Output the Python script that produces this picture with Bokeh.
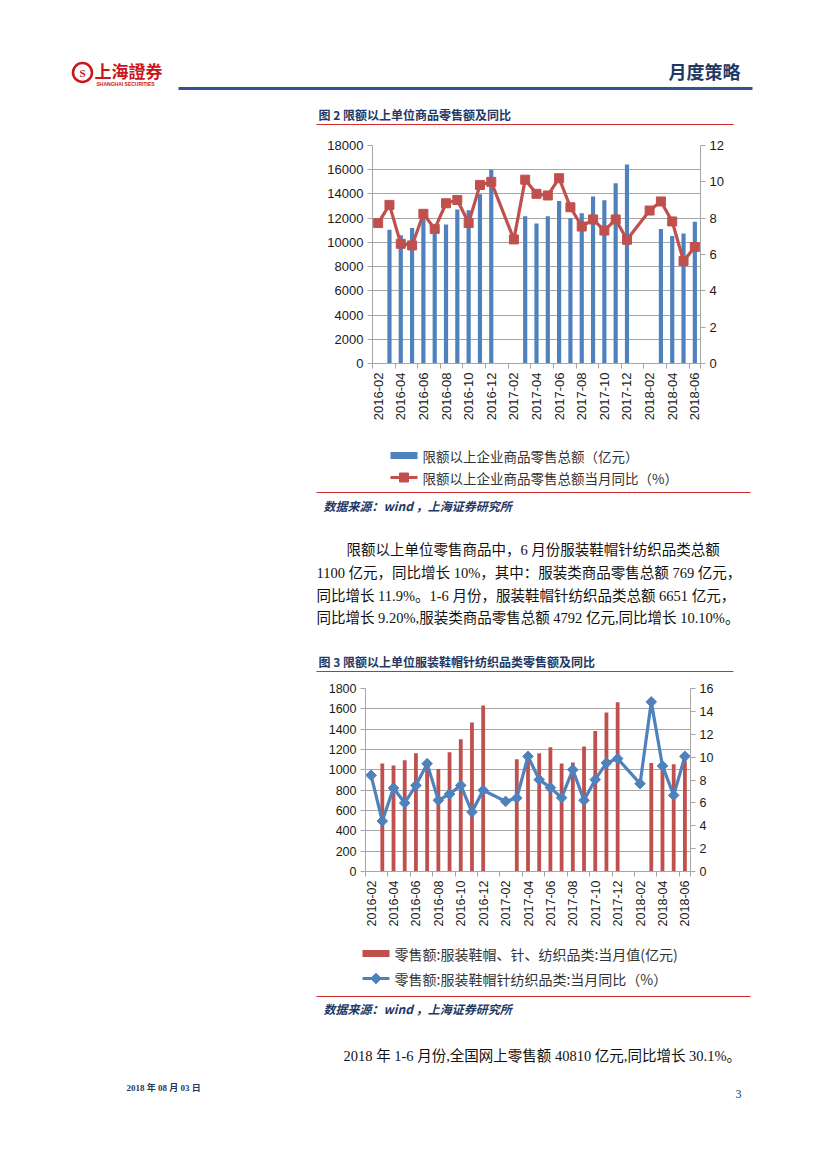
import math
from bokeh.plotting import figure
from bokeh.models import Range1d, LinearAxis, FixedTicker
from bokeh.embed import file_html
from bokeh.resources import INLINE
from bokeh.core.properties import value

# ---------------- data ----------------
months = ["2016-02", "2016-03", "2016-04", "2016-05", "2016-06", "2016-07", "2016-08",
          "2016-09", "2016-10", "2016-11", "2016-12", "2017-01", "2017-02", "2017-03",
          "2017-04", "2017-05", "2017-06", "2017-07", "2017-08", "2017-09", "2017-10",
          "2017-11", "2017-12", "2018-01", "2018-02", "2018-03", "2018-04", "2018-05",
          "2018-06"]

# 图2: 限额以上企业商品零售总额 (亿元) and 当月同比 (%)
retail_total = [None, 11040, 10580, 11180, 12000, 11000, 11480, 12710, 12660, 13970, 16000,
                None, None, 12160, 11560, 12160, 13420, 12000, 12410, 13780, 13480, 14880,
                16440, None, None, 11100, 10520, 10740, 11700]
retail_yoy = [7.73, 8.73, 6.59, 6.5, 8.24, 7.41, 8.82, 9.0, 7.73, 9.83, 10.0,
              None, 6.83, 10.12, 9.34, 9.25, 10.2, 8.6, 7.54, 7.93, 7.32, 7.93, 6.81,
              None, 8.42, 8.92, 7.82, 5.64, 6.41]

# 图3: 服装鞋帽针纺织品类 当月值 (亿元) and 当月同比 (%)
apparel_value = [None, 1062, 1043, 1095, 1164, 1065, 1007, 1174, 1302, 1466, 1633,
                 None, None, 1105, 1090, 1164, 1223, 1062, 1072, 1230, 1383, 1563, 1665,
                 None, None, 1066, 1040, 1056, 1090]
apparel_yoy = [8.41, 4.41, 7.3, 5.99, 7.53, 9.43, 6.22, 6.77, 7.53, 5.2, 7.1,
               None, 6.13, 6.42, 10.07, 8.03, 7.33, 6.45, 8.9, 6.22, 8.03, 9.49, 9.87,
               None, 7.68, 14.83, 9.23, 6.66, 10.07]

left_ticks_1 = [0, 2000, 4000, 6000, 8000, 10000, 12000, 14000, 16000, 18000]
right_ticks_1 = [0, 2, 4, 6, 8, 10, 12]
left_ticks_2 = [0, 200, 400, 600, 800, 1000, 1200, 1400, 1600, 1800]
right_ticks_2 = [0, 2, 4, 6, 8, 10, 12, 14, 16]

legend1 = ["限额以上企业商品零售总额（亿元）", "限额以上企业商品零售总额当月同比（%）"]
legend2 = ["零售额:服装鞋帽、针、纺织品类:当月值(亿元)", "零售额:服装鞋帽针纺织品类:当月同比（%）"]

BLUE = "#4f81bd"
RED = "#c0504d"
NAVY = "#1f3864"
RULE_RED = "#d42a2a"
GRID = "#a6a6a6"
W = 827
CJK = "Noto Sans CJK SC"
SERIF = "'Liberation Serif', 'Noto Sans CJK SC'"


def chart(height, top_b, bot_b, left_b, right_b, bars, yoy, ymax, lticks, rmax, rticks,
          bar_color, line_color, marker, msize, mangle, bar_w, font_px):
    p = figure(width=W, height=height, x_range=Range1d(-0.5, len(months) - 0.5),
               y_range=Range1d(0, ymax), output_backend="svg", toolbar_location=None,
               min_border_top=top_b, min_border_bottom=bot_b,
               min_border_left=left_b, min_border_right=right_b)
    p.extra_y_ranges = {"yoy": Range1d(0, rmax)}
    p.add_layout(LinearAxis(y_range_name="yoy", ticker=FixedTicker(ticks=rticks)), "right")
    p.outline_line_color = None

    bx = [i for i, v in enumerate(bars) if v is not None]
    bt = [v for v in bars if v is not None]
    p.vbar(x=bx, top=bt, width=bar_w, fill_color=bar_color, line_color=None)

    lx = [i for i, v in enumerate(yoy) if v is not None]
    ly = [v for v in yoy if v is not None]
    p.line(lx, ly, y_range_name="yoy", line_color=line_color, line_width=3.2)
    p.scatter(lx, ly, y_range_name="yoy", marker=marker, size=msize, angle=mangle,
              fill_color=line_color, line_color=line_color)

    p.yaxis[0].ticker = FixedTicker(ticks=lticks)
    p.ygrid.ticker = FixedTicker(ticks=lticks)
    p.ygrid.grid_line_color = GRID
    p.xgrid.grid_line_color = None

    ax = p.xaxis[0]
    ax.ticker = FixedTicker(ticks=list(range(0, len(months), 2)),
                            minor_ticks=[i - 0.5 for i in range(0, len(months), 2)] + [len(months) - 0.5])
    ax.major_label_overrides = {i: months[i] for i in range(0, len(months), 2)}
    ax.major_label_orientation = math.pi / 2
    ax.major_tick_line_color = None
    ax.major_tick_out = 5
    ax.minor_tick_line_color = GRID
    ax.minor_tick_out = 5
    ax.minor_tick_in = 0
    for a in p.axis:
        a.axis_line_color = GRID
        a.major_label_text_font = "Liberation Sans"
        a.major_label_text_font_size = font_px
        a.major_label_text_color = "#1a1a1a"
        a.major_label_standoff = 4
    for a in p.yaxis:
        a.major_tick_line_color = GRID
        a.major_tick_in = 0
        a.major_tick_out = 5
        a.minor_tick_line_color = None
    return p


def deco(y0, y1):
    p = figure(width=W, height=y1 - y0, x_range=Range1d(0, W), y_range=Range1d(y1, y0),
               output_backend="svg", toolbar_location=None, x_axis_type=None, y_axis_type=None,
               min_border=0)
    p.outline_line_color = None
    p.grid.visible = False
    return p


def txt(p, x, y, s, size, color, font=CJK, style="normal", align="left"):
    p.text(x=[x], y=[y], text=[s], text_font=value(font), text_font_size=value(size),
           text_color=color, text_font_style=style, text_baseline="middle", text_align=align)


def rule(p, x0, x1, y, color, width):
    p.segment(x0=[x0], y0=[y], x1=[x1], y1=[y], line_color=color, line_width=width)


def legend(p, x, y1, y2, labels, bar_color, line_color, marker, msize, mangle, size):
    # item 1: bar swatch
    p.rect(x=[x + 13.5], y=[y1], width=27, height=7, fill_color=bar_color, line_color=None)
    txt(p, x + 32, y1, labels[0], size, "#333333")
    # item 2: line + marker swatch
    p.segment(x0=[x], y0=[y2], x1=[x + 27], y1=[y2], line_color=line_color, line_width=3)
    p.scatter([x + 13.5], [y2], marker=marker, size=msize, angle=mangle,
              fill_color=line_color, line_color=line_color)
    txt(p, x + 32, y2, labels[1], size, "#333333")


# ---------------- header ----------------
top = deco(0, 135)
top.scatter([82], [72], marker="circle", size=19, fill_color="white", line_color="#c8161d", line_width=2.5)
txt(top, 82, 72, "S", "11px", "#c8161d", font="Liberation Serif", style="bold", align="center")
txt(top, 94, 70, "上海證券", "17px", "#c8161d", style="bold")
txt(top, 96, 83, "SHANGHAI SECURITIES", "5px", "#c8161d", font="Liberation Sans", style="bold")
txt(top, 668, 70, "月度策略", "18px", NAVY, style="bold")
rule(top, 178, 752, 88, "#2f5490", 3)
txt(top, 318, 114, "图 2 限额以上单位商品零售额及同比", "12px", NAVY, style="bold")
rule(top, 316, 733, 124, RULE_RED, 1.2)

# ---------------- chart (图2) ----------------
c1 = chart(295, 10, 67, 372, 127, retail_total, retail_yoy, 18000, left_ticks_1, 12,
           right_ticks_1, BLUE, RED, "square", 9, 0, 0.37, "13px")

# ---------------- middle text ----------------
mid = deco(430, 680)
legend(mid, 390, 455, 477, legend1, BLUE, RED, "square", 9, 0, "13.5px")
rule(mid, 316, 750, 492, RULE_RED, 1.2)
txt(mid, 323, 505, "数据来源：wind ，上海证券研究所", "12px", NAVY, style="bold italic")
para = [(346, 549, "限额以上单位零售商品中，6 月份服装鞋帽针纺织品类总额"),
        (316, 572, "1100 亿元，同比增长 10%，其中：服装类商品零售总额 769 亿元，"),
        (316, 595, "同比增长 11.9%。1-6 月份，服装鞋帽针纺织品类总额 6651 亿元，"),
        (316, 617, "同比增长 9.20%,服装类商品零售总额 4792 亿元,同比增长 10.10%。")]
for x, y, s in para:
    txt(mid, x, y, s, "14.5px", "#111111", font=SERIF)
txt(mid, 318, 661, "图 3 限额以上单位服装鞋帽针纺织品类零售额及同比", "12px", NAVY, style="bold")
rule(mid, 316, 733, 671, RULE_RED, 1.2)

# ---------------- chart (图3) ----------------
c2 = chart(255, 8, 64, 365, 137, apparel_value, apparel_yoy, 1800, left_ticks_2, 16,
           right_ticks_2, RED, BLUE, "square", 7.5, math.pi / 4, 0.34, "12.5px")

# ---------------- bottom text ----------------
bot = deco(935, 1160)
legend(bot, 362, 953, 978, legend2, RED, BLUE, "square", 7.5, math.pi / 4, "14px")
rule(bot, 316, 750, 996, RULE_RED, 1.2)
txt(bot, 323, 1008, "数据来源：wind ，上海证券研究所", "12px", NAVY, style="bold italic")
txt(bot, 343, 1055, "2018 年 1-6 月份,全国网上零售额 40810 亿元,同比增长 30.1%。", "14.5px", "#111111", font=SERIF)
txt(bot, 126, 1087, "2018 年 08 月 03 日", "9px", NAVY, font=SERIF, style="bold")
txt(bot, 735, 1093, "3", "12px", "#1f3864", font="Liberation Serif")

p = [top, c1, mid, c2, bot]
open("out.html", "w").write(file_html(p, INLINE))
